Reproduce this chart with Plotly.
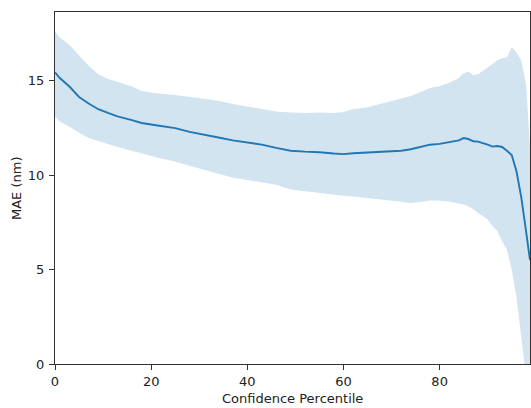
import plotly.graph_objects as go

percentile = [0, 1, 3, 5, 7, 9, 11, 13, 16, 18, 21, 25, 28, 31, 34, 37, 40, 43, 46, 49,
              52, 55, 58, 60, 62, 65, 68, 70, 72, 74, 76, 78, 80, 82, 84, 85, 86, 87, 88,
              90, 91, 92, 93, 94, 95, 96, 97, 98, 98.8]

mae_mean = [15.45, 15.15, 14.7, 14.15, 13.8, 13.5, 13.3, 13.12, 12.92, 12.77, 12.65, 12.5,
            12.3, 12.13, 12.0, 11.85, 11.75, 11.62, 11.45, 11.3, 11.25, 11.22, 11.15, 11.12,
            11.17, 11.2, 11.22, 11.25, 11.3, 11.38, 11.5, 11.62, 11.66, 11.75, 11.85, 11.97,
            11.92, 11.8, 11.78, 11.62, 11.52, 11.55, 11.5, 11.3, 11.07, 10.2, 8.8, 7.0, 5.5]

mae_upper = [17.6, 17.3, 16.9, 16.35, 15.8, 15.35, 15.1, 14.95, 14.7, 14.46, 14.35, 14.25,
             14.15, 14.05, 13.95, 13.78, 13.65, 13.5, 13.38, 13.33, 13.3, 13.32, 13.3, 13.35,
             13.5, 13.6, 13.8, 13.9, 14.05, 14.2, 14.4, 14.62, 14.72, 14.9, 15.15, 15.4,
             15.48, 15.3, 15.35, 15.7, 15.9, 16.1, 16.2, 16.25, 16.8, 16.5, 16.05, 14.8, 11.5]

mae_lower = [13.1, 12.85, 12.57, 12.25, 11.98, 11.8, 11.65, 11.5, 11.3, 11.13, 10.95, 10.72,
             10.5, 10.27, 10.05, 9.87, 9.75, 9.62, 9.5, 9.25, 9.15, 9.07, 8.97, 8.92, 8.87,
             8.8, 8.72, 8.66, 8.6, 8.52, 8.6, 8.66, 8.65, 8.6, 8.5, 8.45, 8.35, 8.2, 8.0,
             7.65, 7.3, 7.05, 6.5, 6.05, 5.0, 3.5, 1.4, -0.5, -2.5]

x_ticks = [0, 20, 40, 60, 80]
y_ticks = [0, 5, 10, 15]

FONT = dict(family="DejaVu Sans", size=13, color="#222222")

fig = go.Figure()
fig.add_trace(go.Scatter(x=percentile, y=mae_upper, mode="lines",
                         line=dict(width=0), showlegend=False, hoverinfo="skip"))
fig.add_trace(go.Scatter(x=percentile, y=mae_lower, mode="lines", fill="tonexty",
                         fillcolor="rgba(31,119,180,0.2)",
                         line=dict(width=0), showlegend=False, hoverinfo="skip"))
fig.add_trace(go.Scatter(x=percentile, y=mae_mean, mode="lines",
                         line=dict(color="#1f77b4", width=1.9), showlegend=False))

axis_common = dict(showline=True, linecolor="#333333", linewidth=1, mirror=True,
                   ticks="outside", ticklen=5, tickwidth=1, tickcolor="#333333",
                   showgrid=False, zeroline=False, automargin=False, tickfont=FONT)

fig.update_xaxes(range=[0, 98.8], tickvals=x_ticks, **axis_common)
fig.update_yaxes(range=[0, 18.65], tickvals=y_ticks, ticklabelstandoff=2, **axis_common)

fig.add_annotation(text="Confidence Percentile", xref="paper", yref="paper",
                   x=0.5, y=-0.0966, xanchor="center", yanchor="middle",
                   showarrow=False, font=FONT)
fig.add_annotation(text="MAE (nm)", xref="paper", yref="paper",
                   x=-0.0821, y=0.5, xanchor="center", yanchor="middle",
                   textangle=-90, showarrow=False, font=FONT)

fig.update_layout(width=531, height=408, margin=dict(l=55, r=1, t=12, b=44),
                  plot_bgcolor="white", paper_bgcolor="white")

fig.write_html("out.html", config={"displayModeBar": False},
               post_script="document.body.style.margin='0';"
                           "document.body.style.overflow='hidden';")
